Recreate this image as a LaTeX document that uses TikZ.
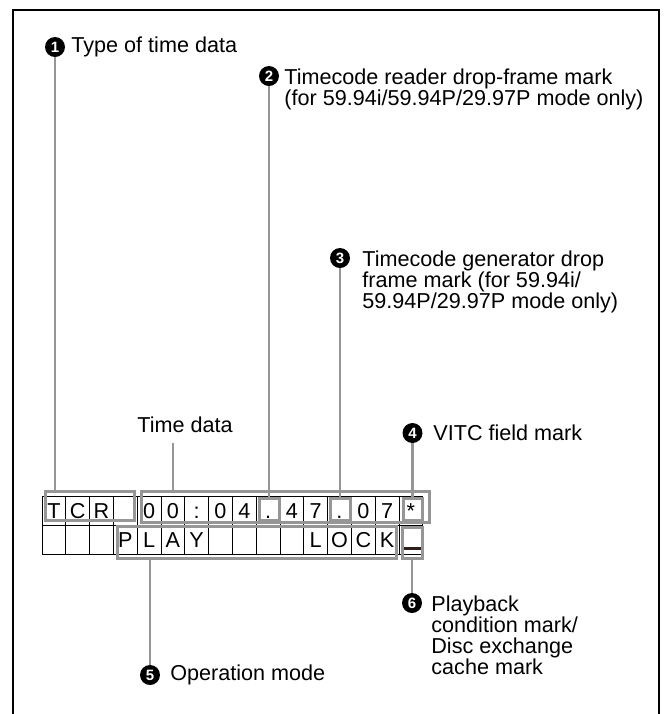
\documentclass[tikz,border=0pt]{standalone}
\usepackage{fontspec}
\setmainfont{Liberation Sans}
\usepackage{tikz}
\usetikzlibrary{positioning,fit}
\usepackage{xcolor}
\definecolor{leadgrey}{RGB}{150,150,150}
\definecolor{markdark}{RGB}{45,30,25}
\newcommand{\lblfont}{\fontsize{10.8}{10.5}\selectfont}
\tikzset{
  cell/.style={draw=black,line width=.5pt,minimum width=11.9pt,minimum height=14.5pt,
               inner sep=0pt,outer sep=0pt,text height=7.8pt,text depth=0pt,font=\lblfont},
  brk/.style={draw=leadgrey,line width=1.5pt,inner sep=0pt,outer sep=0pt},
  lead/.style={draw=leadgrey,line width=1.3pt},
  callout/.style={circle,fill=black,text=white,inner sep=0pt,minimum size=10pt,
                  font=\fontsize{7.5}{7.5}\selectfont\bfseries},
  lbl/.style={inner sep=0pt,font=\lblfont,align=left},
  frameline/.style={draw=black,line width=1.2pt},
  umark/.style={draw=markdark,line width=1.5pt},
}

\begin{document}
\begin{tikzpicture}[x=0.5pt,y=0.5pt]
  \useasboundingbox (0,0) rectangle (664,-714);
  \draw[frameline] (13,-714) -- (13,-10) -- (659,-10) -- (659,-714);
  % display cells
  \foreach \ch [count=\i] in {T,C,R,{},0,0,:,0,4,.,4,7,.,0,7,*}{
    \node[cell] (a\i) at ({42+(\i-0.5)*23.8},-510.5) {\ch};
  }
  \foreach \ch [count=\i] in {{},{},{},P,L,A,Y,{},{},{},{},L,O,C,K,{}}{
    \node[cell] (b\i) at ({42+(\i-0.5)*23.8},-539.5) {\ch};
  }
  \draw[umark] (404,-548) -- (421,-548);
  % grey brackets
  \node[brk,fit={(45,-491) (134,-520)}] (tcr) {};
  \node[brk,fit={(141,-491) (429,-522)}] (tdata) {};
  \node[brk,fit={(259,-498) (279,-520)}] (dotA) {};
  \node[brk,fit={(330,-498) (350,-520)}] (dotB) {};
  \node[brk,fit={(403,-498) (422,-520)}] (star) {};
  \node[brk,fit={(117,-526) (396,-558)}] (opmode) {};
  \node[brk,fit={(402,-527) (422,-558)}] (ubox) {};
  % callouts and labels
  \node[callout] (n1) at (55,-47) {1};
  \node[lbl,anchor=west] (t1) at (71,-47) {Type of time data};
  \node[callout] (n2) at (269,-76) {2};
  \node[lbl,anchor=north west] (t2) at (284,-68)
    {Timecode reader drop-frame mark\\(for 59.94i/59.94P/29.97P mode only)};
  \node[callout] (n3) at (340,-258) {3};
  \node[lbl,anchor=north west] (t3) at (362,-250)
    {Timecode generator drop\\frame mark (for 59.94i/\\59.94P/29.97P mode only)};
  \node[callout] (n4) at (412.5,-433) {4};
  \node[lbl,anchor=west] (t4) at (433,-433) {VITC field mark};
  \node[lbl,anchor=west] (tlbl) at (137,-425) {Time data};
  \node[callout] (n5) at (150,-675) {5};
  \node[lbl,anchor=west] (t5) at (170,-675) {Operation mode};
  \node[callout] (n6) at (412,-603) {6};
  \node[lbl,anchor=north west] (t6) at (431,-595)
    {Playback\\condition mark/\\Disc exchange\\cache mark};
  % leader lines
  \coordinate (tdtop) at (173,-443);
  \draw[lead] (n1.south) -- (n1 |- tcr.north);
  \draw[lead] (tdtop) -- (tdtop |- tdata.north);
  \draw[lead] (n2.south) -- (n2 |- dotA.north);
  \draw[lead] (n3.south) -- (n3 |- dotB.north);
  \draw[lead] (n4.south) -- (n4 |- star.north);
  \draw[lead] (n5.north) -- (n5 |- opmode.south);
  \draw[lead] (n6.north) -- (n6 |- ubox.south);
\end{tikzpicture}
\end{document}
